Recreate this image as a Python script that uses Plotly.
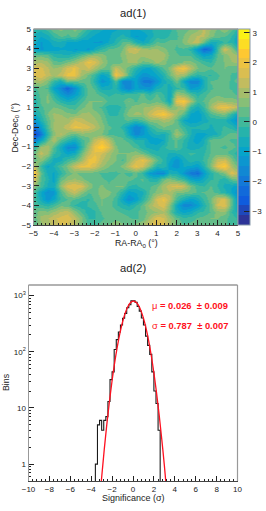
import numpy as np
import plotly.graph_objects as go

W, H = 266, 511

ra_deg = [-5 + i / 3 for i in range(31)]
dec_deg = [5 - i / 3 for i in range(31)]
# rows run from Dec=+5 down to Dec=-5
sig_rows = [
 [-.3,-.4,.0,.4,.6,.3,.6,.3,-.3,-.6,-.8,-.9,-.9,-.7,-.8,-.9,-.7,-.6,-.3,-.5,-.3,.2,.3,.5,.7,1.3,.8,.4,.8,.3,-.4],
 [-.5,-.8,-.6,-.1,.2,.1,.3,-.3,-.7,-.9,-1,-.9,-.6,-.4,-.7,-1.2,-1.1,-.7,-.3,-.4,-.1,.1,.5,.9,1.2,1.2,.6,.3,.2,-.2,-.8],
 [-.6,-1.2,-1.0,-.6,-.6,-.9,-.9,-1.1,-1.0,-1.2,-1.2,-.8,-.4,.2,.3,-.4,-.8,-.4,.2,.1,.3,.2,.6,1.1,1.3,.4,-.6,-.5,-.1,-.3,-1.0],
 [-.9,-1.2,-1.1,-1,-.9,-.9,-1.2,-1.1,-1.2,-.7,-.2,.2,.3,.5,1.4,1.5,.9,.8,.9,.6,.3,.1,.1,-.3,-1.3,-2.3,-2,.0,1.5,.7,-.3],
 [.2,.4,.2,-.3,-.4,-.5,-.2,.2,.6,.8,.7,.3,.3,.6,1,1,.9,1.1,1.1,1.0,.4,.2,.1,.1,-.5,-1.0,-.8,.2,.6,1,.9],
 [1,1.1,.9,.3,.2,.5,.8,1.3,1.9,1.7,.9,.4,.2,.5,.9,.9,.4,.5,.9,.7,.2,.2,.6,.6,.3,0,-.2,.4,.5,.8,.9],
 [1.7,1.6,1.2,.8,1,1.6,1.9,1.2,1.5,1,.5,.3,1.4,.8,.3,-.3,-.8,-.9,-.4,.2,.6,1.7,2.1,1.2,.5,.4,.2,.4,.5,.3,.2],
 [1.5,1.8,1.3,1,1.3,1.9,1.9,.9,.4,-.1,-1,-.6,2,1.3,.1,-.8,-1.4,-1.2,-.9,-.4,.4,1.1,.9,.1,-.3,-.1,-.2,.1,.4,.1,.1],
 [.9,1.1,.6,-.1,-.6,.5,.4,.3,.3,-.4,-1.3,-1.1,.1,-1.6,-1.7,-1,-1.9,-2,-1.4,-.6,-.4,.4,-.8,-1.7,-1.7,-.6,.2,.2,.3,.1,.3],
 [.1,.3,.1,-1,-1.6,-2.4,-1.5,-.5,.4,.1,-.7,-.6,-.4,-1.3,-1.8,-1,-1.3,-1.4,-.6,-.3,-.7,-.2,-.1,-1.2,-1,-.5,.1,.3,.3,.1,-.2],
 [-.2,.3,.5,-.3,-1.1,-1.6,-1.1,-.5,.3,.3,0,-.3,-.1,-.2,-.1,-.1,.3,-.3,.2,-.2,-.8,.9,.7,.1,-.3,0,.3,.4,.2,.3,0],
 [-.5,.2,.6,.2,-.3,-.6,-.4,.1,.5,.5,.5,.1,.1,.1,.5,.1,.4,.2,.4,.1,-.8,1.9,2.2,1.0,0,.2,.6,.9,.8,.7,.6],
 [-.3,.1,.3,.5,.4,.1,0,.4,.7,.3,.1,-.4,-.4,-.1,.4,.7,.8,.9,1.2,1.1,.4,.8,1.2,-.2,-.7,-.1,.9,1.7,2,1.6,1.2],
 [-.7,-.2,.5,.9,.8,.6,.5,.9,.9,.7,.4,-.2,-.3,.1,.7,.9,.8,1.4,1.9,2.2,1.6,.9,.2,-.9,-1.1,-.6,.1,.4,.6,-.2,-1],
 [-1.4,-.5,.3,.8,1.1,.9,1.5,1.3,1,.9,.5,0,.1,.1,.2,-.1,.2,.7,.7,1,.9,.3,-.8,-1.1,-1,-.7,-.4,-.4,-.4,-1,-1.5],
 [-2.3,-1.2,.1,.9,1,1.4,1.9,1.8,1.6,1.2,.7,.2,.1,-.3,-1,-1.8,-1.4,-.3,.2,.5,.3,.4,-.1,-.5,-.4,-.2,-.6,-.3,-.1,-.3,-.9],
 [-3.2,-2.1,-.3,.7,1.2,.6,.3,.7,.6,.5,.5,.1,.1,.1,-.8,-1.7,-1.3,-.8,-.4,-.6,-.1,1,.3,-.5,-1,-1,-.7,-.5,.1,.3,.3],
 [-2.0,-.9,.3,1.1,.2,-.3,-.7,0,.4,1.3,1.8,1.2,.3,.2,.1,-.4,-.4,-1,-1.1,-.8,.1,.2,-.2,-.7,-1.1,-.6,.3,.4,.3,.1,.1],
 [-.4,.9,1.1,.2,-.7,-1.6,-1.6,-.2,.9,1.9,2.5,1.7,.6,.2,.3,.1,-.4,-.6,-.7,-.3,.1,.2,-.3,-.8,-.6,-.4,.2,.2,.1,.3,.0],
 [.3,1.3,.9,-.1,-.5,-1,-.7,.4,1.3,1.8,1.5,1,.5,.5,.5,.7,.4,-.1,-.4,-.3,-.6,-.5,-.3,-.1,-.2,-.2,.2,.3,.3,0,-.5],
 [.3,.7,0,-.7,-.6,0,.3,.9,1.9,2,1.2,.8,.5,.1,.7,1.4,1.9,1.2,.3,-.3,-.8,-1.4,-.7,-.3,-.5,-.1,.4,1.3,1.5,.6,-.2],
 [1.3,-.1,-.9,-.5,.1,.6,1.4,1.9,1.9,1.5,.9,.5,.3,.6,1.2,1.9,1.5,.6,-.4,-.2,-1.1,-1.4,-.8,-.9,-1.1,-.4,.6,1.9,2.3,1,.3],
 [2.5,.3,-.6,-.9,-.3,.3,.6,.3,.3,.3,.1,.1,.1,.2,0,.3,-.2,-1.2,-1.5,-1.6,-.5,-.6,-1.3,-2,-2.2,-1.2,-.3,.1,.6,1.7,1.1],
 [1.7,.2,-.4,-1,.3,.7,.9,.6,.3,.4,.2,.1,.2,.4,.3,.1,.2,-.3,-.4,.4,.6,.2,-.1,-.9,-1.1,-.7,-.2,-.1,-.4,.3,.6],
 [.7,.1,-.6,-.7,.8,1.7,1.8,1.6,.8,.3,.6,.2,.5,.5,-.2,-.3,.1,.1,.4,1,1.4,1.7,1.4,.5,0,-.2,.2,-.2,-.6,-.8,-1],
 [.1,-.8,-1.5,-1.3,.1,.9,1.4,.7,.2,.3,.7,.6,.3,-.4,-1.0,-.8,-.6,.2,.6,.9,1.1,.5,.5,.4,.1,.2,.3,0,-.4,-.9,-1.6],
 [.1,-.7,-1.4,-.9,-.1,.2,.2,-.1,-.2,.3,.5,.4,0,-.9,-1.5,-1.1,-.3,.4,1.5,1.9,1.2,.1,-.6,-1,-.7,-.1,.4,1.4,1.6,.3,-1.4],
 [.1,-.1,-.3,0,.4,.3,-.2,-.4,-.1,0,.5,.4,-.1,-.4,-.6,-.2,.3,1,1.4,1.7,.7,-.8,-1.7,-1.6,-1.1,-.4,.3,1.5,1.7,.2,-1.2],
 [.3,.7,.6,.9,1.2,1.4,.7,.1,-.4,-.2,.2,.4,.3,.1,0,.1,.3,.6,.8,1.1,.4,-.6,-.9,-.7,-.2,-.1,.2,.7,.7,-.2,-.7],
 [.2,.9,1.1,1.4,1.6,1.7,1.3,.6,-.2,-.2,.1,.3,.4,.4,.2,.1,.3,1,1.7,1.5,.9,.3,-.1,0,.2,.3,.5,.5,.2,.1,-.3],
 [.2,.7,1,1.3,1.5,1.4,1.1,.5,.1,.1,.3,.5,.7,.5,.3,.6,.9,1.6,1.8,1.6,1,.4,.2,.3,.3,.4,.4,.3,.2,.1,-.2],
]
for i, r in enumerate(sig_rows):
    assert len(r) == 31, (i, len(r))

hist_edges = [-3.8 + 0.2 * i for i in range(34)]
hist_counts = [0, 1, 5, 6, 4, 6, 7, 13, 32, 44, 110, 165, 225, 300, 395, 480, 610, 690,
               810, 810, 760, 640, 530, 400, 300, 190, 130, 90, 44, 20, 12, 4, 0]
fit_x = [-3.05,-2.75,-2.5,-2.25,-2,-1.75,-1.5,-1.25,-1,-.75,-.5,-.25,0,.25,.5,.75,1,1.25,1.5,1.75,2,2.25,2.5,2.75,3,3.15]
fit_y = [.46,1.83,5.2,13.3,30.8,65,124,216,340,487,633,746,798,776,684,547,397,262,157,85,42,18.8,7.6,2.8,.95,.46]

FONT = "Liberation Sans"
TXT = "#222222"
ZMIN, ZMAX = -3.47, 3.13

bird = np.array([[.2082,.1664,.5293],[.0592,.3599,.8684],[.0780,.5041,.8385],[.0232,.6419,.7914],
                 [.1802,.7178,.6425],[.5301,.7492,.4662],[.8186,.7328,.3499],[.9956,.7862,.1968],[.9764,.9832,.0539]])
stops = np.linspace(0, 1, 9)
nb = 20
cs = []
for i in range(nb):
    t = (i + .5) / nb
    c = [int(round(255 * np.interp(t, stops, bird[:, k]))) for k in range(3)]
    col = f"rgb({c[0]},{c[1]},{c[2]})"
    cs += [[i / nb, col], [(i + 1) / nb, col]]

def fx(p): return p / W
def fy(p): return 1 - p / H

A = (33.5, 238.0, 29.0, 225.0)
B = (28.5, 237.5, 285.0, 481.0)

fig = go.Figure()
fig.add_trace(go.Heatmap(x=ra_deg, y=dec_deg[::-1], z=sig_rows[::-1], zmin=ZMIN, zmax=ZMAX,
    colorscale=cs, zsmooth="best", xaxis="x", yaxis="y",
    colorbar=dict(x=fx(238), xanchor="left", y=fy(225), yanchor="bottom", len=196 / H, lenmode="fraction",
                  thickness=12, thicknessmode="pixels", outlinecolor="#8899aa", outlinewidth=1,
                  tickvals=[-3,-2,-1,0,1,2,3], ticks="inside", ticklen=6, tickcolor="#222", tickwidth=1,
                  tickfont=dict(family=FONT, size=8, color=TXT), xpad=0, ypad=0, ticklabelposition="outside")))
fig.add_trace(go.Scatter(x=hist_edges, y=[max(c, 0.1) for c in hist_counts] + [0.1], mode="lines",
    line=dict(color="#1a1a1a", width=1.1, shape="hv"), xaxis="x2", yaxis="y2", showlegend=False))
fig.add_trace(go.Scatter(x=fit_x, y=fit_y, mode="lines", line=dict(color="#ff1020", width=1.3, shape="spline"),
    xaxis="x2", yaxis="y2", showlegend=False))

tick = dict(family=FONT, size=8, color=TXT)
def ax(rng, dtick, mdtick, dom, anchor, **kw):
    return dict(range=rng, dtick=dtick, tick0=rng[0], domain=dom, anchor=anchor, ticks="inside", ticklen=5,
                tickwidth=0.8, tickcolor="#222", showgrid=False, zeroline=False, tickfont=tick,
                showline=True, linecolor="#444", linewidth=1, ticklabelstandoff=0,
                minor=dict(dtick=mdtick, tick0=rng[0], ticks="inside", ticklen=2.5, tickwidth=0.8, tickcolor="#222", showgrid=False),
                **kw)

ann = []
def text(px, py, s, size, color=TXT, rot=0, **kw):
    ann.append(dict(x=fx(px), y=fy(py), xref="paper", yref="paper", text=s, showarrow=False, textangle=rot,
                    font=dict(family=FONT, size=size, color=color), xanchor=kw.get("xanchor", "center"), yanchor="middle"))
text(133, 13, "ad(1)", 11.2)
text(133, 268, "ad(2)", 11.2)
text(136, 243, "RA-RA<sub>0</sub> (°)", 8.8)
text(14.5, 128, "Dec-Dec<sub>0</sub> (°)", 8.8, rot=-90)
text(133, 498, "Significance (σ)", 9)
text(6, 382, "Bins", 8.8, rot=-90)
text(149.5, 305, "μ <b>= 0.026 \u00a0± 0.009</b>", 9.4, color="#ff1020", xanchor="left")
text(149.5, 325, "σ <b>= 0.787 \u00a0± 0.007</b>", 9.4, color="#ff1020", xanchor="left")

shapes = []
for (l, r, t, b) in (A, B):
    for x0, y0, x1, y1, c, w in ((l, t, r, t, "#999999", 1.5), (r, t, r, b, "#999999", 1.2), (l, t, l, b, "#999999", 1.0)):
        shapes.append(dict(type="line", xref="paper", yref="paper", x0=fx(x0), y0=fy(y0), x1=fx(x1), y1=fy(y1),
                           line=dict(color=c, width=w)))

fig.update_layout(
    width=W, height=H, autosize=False, margin=dict(l=0, r=0, t=0, b=0, autoexpand=False), paper_bgcolor="white", plot_bgcolor="white",
    showlegend=False, annotations=ann, shapes=shapes,
    xaxis=ax([-5, 5], 1, 0.2, [fx(A[0]), fx(A[1])], "y"),
    yaxis=ax([-5, 5], 1, 0.2, [fy(A[3]), fy(A[2])], "x"),
    xaxis2=ax([-10, 10], 2, 0.4, [fx(B[0]), fx(B[1])], "y2"),
    yaxis2=dict(type="log", range=[np.log10(0.5), 3.19], domain=[fy(B[3]), fy(B[2])], anchor="x2", ticks="inside",
                ticklen=5, tickwidth=0.8, tickcolor="#222", showgrid=False, zeroline=False, showline=True, linecolor="#444",
                tickvals=[1, 10, 100, 1000], ticktext=["1", "10", "10<sup>2</sup>", "10<sup>3</sup>"], tickfont=tick,
                minor=dict(ticks="inside", ticklen=2.5, tickwidth=0.8, tickcolor="#222", dtick="D1", showgrid=False)),
)
fig.write_html("out.html", config={"displayModeBar": False},
               post_script="document.body.style.margin='0';")
